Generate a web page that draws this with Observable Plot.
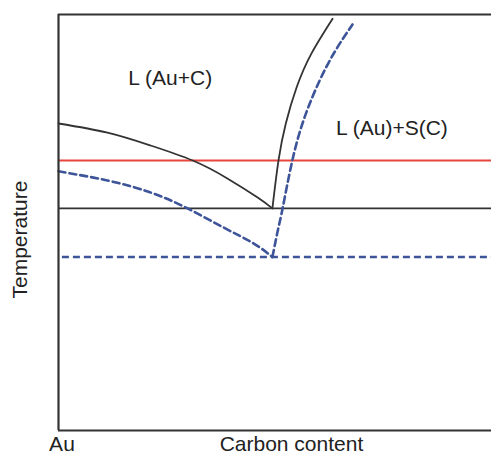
<!DOCTYPE html>
<html>
<head>
<meta charset="utf-8">
<script src="https://cdn.jsdelivr.net/npm/d3@7"></script>
<script src="https://cdn.jsdelivr.net/npm/@observablehq/plot@0.6"></script>
<style>
  html, body { margin: 0; padding: 0; background: #fff; }
  #chart svg { display: block; }
</style>
</head>
<body>
<div id="chart"></div>
<script>
// Schematic Au–C phase diagram (arbitrary units: carbon content 0–100, temperature 0–100)

// Bulk liquidus, Au-rich side (solid black)
const liquidusLeftX = [0, 11.3, 21.3, 31.0, 39.0, 46.0, 49.4];
const liquidusLeftY = [73.8, 71.6, 68.5, 64.9, 60.6, 56.0, 53.4];

// Bulk carbon solubility limit (solid black)
const solubilityX = [49.4, 50.8, 52.5, 55.0, 58.4, 63.3];
const solubilityY = [53.4, 64.9, 73.8, 82.5, 90.6, 99.0];

// Nano-size liquidus, Au-rich side (blue dashed)
const nanoLeftX = [0, 11.3, 21.3, 29.8, 38.1, 45.0, 49.4];
const nanoLeftY = [62.3, 60.1, 57.2, 53.4, 48.8, 45.0, 41.7];

// Nano-size carbon solubility limit (blue dashed)
const nanoRightX = [49.4, 50.8, 51.8, 54.0, 56.8, 60.3, 64.0, 67.9];
const nanoRightY = [41.7, 48.8, 53.6, 64.9, 75.2, 84.1, 91.4, 97.6];

// Horizontal temperature levels
const eutecticT = 53.4;      // bulk eutectic (black)
const nanoEutecticT = 41.7;  // nano eutectic (blue dashed)
const growthT = 64.9;        // process temperature (red)

// Region labels
const regionLabels = ["L (Au+C)", "L (Au)+S(C)"];
const regionX = [25.8, 77.0];
const regionY = [84.6, 72.6];

// Axis texts and their anchor values (data units)
const axisTexts = ["Au", "Carbon content", "Temperature"];
const axisTextX = [0.8, 53.8, -8.8];
const axisTextY = [-3.3, -3.3, 45.9];
const axisTextRotate = [0, 0, -90];

const toPts = (xs, ys) => xs.map((x, i) => ({x, y: ys[i]}));
const regions = regionLabels.map((t, i) => ({t, x: regionX[i], y: regionY[i]}));
const axisLabels = axisTexts.map((t, i) => ({t, x: axisTextX[i], y: axisTextY[i], r: axisTextRotate[i]}));

const FONT = "'Liberation Sans', Arial, Helvetica, sans-serif";
const BLACK = "#333333";
const BLUE = "#3d5499";
const RED = "#e8453c";

const chart = Plot.plot({
  width: 491,
  height: 456,
  marginLeft: 58,
  marginTop: 14,
  marginRight: 0,
  marginBottom: 26,
  style: {fontFamily: FONT, background: "#fff", color: "#222"},
  x: {domain: [0, 100], axis: null},
  y: {domain: [0, 100], axis: null},
  marks: [
    // horizontal levels
    Plot.ruleY([growthT], {stroke: RED, strokeWidth: 2}),
    Plot.ruleY([eutecticT], {stroke: BLACK, strokeWidth: 1.8}),
    Plot.ruleY([nanoEutecticT], {x1: 0.9, x2: 100, stroke: BLUE, strokeWidth: 2.6, strokeDasharray: "7,4"}),
    // bulk curves
    Plot.line(toPts(liquidusLeftX, liquidusLeftY), {x: "x", y: "y", curve: "natural", stroke: BLACK, strokeWidth: 1.8}),
    Plot.line(toPts(solubilityX, solubilityY), {x: "x", y: "y", curve: "natural", stroke: BLACK, strokeWidth: 1.8}),
    // nano curves
    Plot.line(toPts(nanoLeftX, nanoLeftY), {x: "x", y: "y", curve: "natural", stroke: BLUE, strokeWidth: 2.6, strokeDasharray: "7,4"}),
    Plot.line(toPts(nanoRightX, nanoRightY), {x: "x", y: "y", curve: "natural", stroke: BLUE, strokeWidth: 2.6, strokeDasharray: "7,4"}),
    // frame (left, top, bottom)
    Plot.ruleX([0], {stroke: BLACK, strokeWidth: 2.2}),
    Plot.ruleY([0, 100], {stroke: BLACK, strokeWidth: 2.2}),
    // region labels
    Plot.text(regions, {x: "x", y: "y", text: "t", fontSize: 21, fill: "#222", lineAnchor: "middle"}),
    // axis texts
    Plot.text(axisLabels, {x: "x", y: "y", text: "t", rotate: "r", fontSize: 21, fill: "#222", lineAnchor: "middle"})
  ]
});

document.getElementById("chart").appendChild(chart);
</script>
</body>
</html>
